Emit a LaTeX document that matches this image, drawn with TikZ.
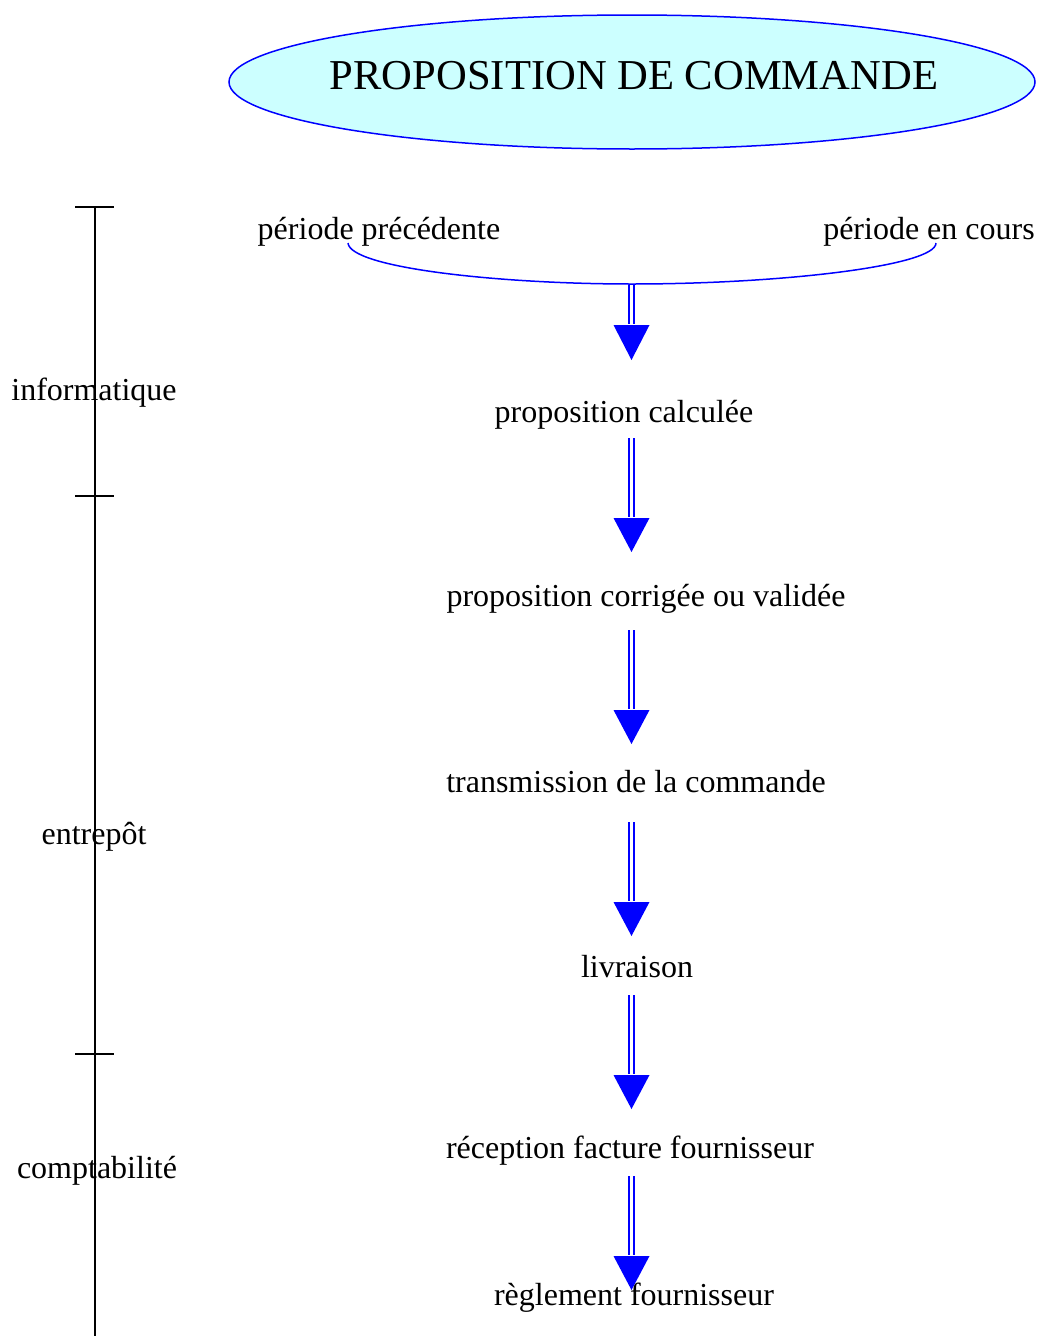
\documentclass[tikz,border=0pt]{standalone}
\usepackage{fontspec}
\setmainfont{Liberation Serif}
\usetikzlibrary{shapes.geometric}
\definecolor{titlefill}{HTML}{CCFFFF}
\begin{document}
\begin{tikzpicture}[x=1pt,y=-1pt,
  label/.style={inner sep=0pt,font=\fontsize{32}{35}\selectfont},
  shaft/.style={draw=blue,line width=2.1pt,double=white,double distance=2.4pt},
  head/.style={fill=blue},
  axis/.style={draw=black,line width=1.4pt}]
\useasboundingbox (0,0) rectangle (1040,1336);

% title
\node[ellipse,draw=blue,line width=1.5pt,fill=titlefill,minimum width=806pt,minimum height=134pt,inner sep=0pt] (title) at (632,82) {};
\node[inner sep=0pt,font=\fontsize{42.6}{46}\selectfont] (titletext) at (634,76) {PROPOSITION DE COMMANDE};

% periods and the bracket joining them
\node[label] (prev) at (379,232) {période précédente};
\node[label] (cur) at (929,232) {période en cours};
\coordinate (bl) at (348,243);
\coordinate (bm) at (632,284);
\coordinate (br) at (936,243);
\draw[blue,line width=1.5pt] (bl) .. controls (350,268) and (500,284) .. (bm) .. controls (780,284) and (936,266) .. (br);

% steps
\node[label] (s1) at (624,415) {proposition calculée};
\node[label] (s2) at (646,599) {proposition corrigée ou validée};
\node[label] (s3) at (636,782) {transmission de la commande};
\node[label] (s4) at (637,967) {livraison};
\node[label] (s5) at (630,1151) {réception facture fournisseur};
\node[label] (s6) at (634,1298) {règlement fournisseur};

% flow arrows: start, head base, tip
\foreach \n/\ys/\yb/\yt in {0/285/325/360, 1/438/518/552, 2/630/710/744, 3/822/902/936, 4/995/1075/1109, 5/1176/1256/1290}{
  \coordinate (a\n s) at (631.5,\ys);
  \coordinate (a\n b) at (631.5,\yb);
  \coordinate (a\n t) at (631.5,\yt);
  \draw[shaft] (a\n s) -- ([yshift=1pt]a\n b);
  \path[head] ([xshift=-18pt]a\n b) -- ([xshift=18pt]a\n b) -- (a\n t) -- cycle;
}

% departments axis
\coordinate (ax0) at (95,207);
\coordinate (ax1) at (95,496);
\coordinate (ax2) at (95,1054);
\coordinate (axend) at (95,1336);
\draw[axis] (ax0) -- (axend);
\foreach \c in {ax0,ax1,ax2}
  \draw[axis] ([xshift=-20pt]\c) -- ([xshift=19pt]\c);
\node[label] (d1) at (94,393) {informatique};
\node[label] (d2) at (94,837) {entrepôt};
\node[label] (d3) at (97,1171) {comptabilité};
\end{tikzpicture}
\end{document}
